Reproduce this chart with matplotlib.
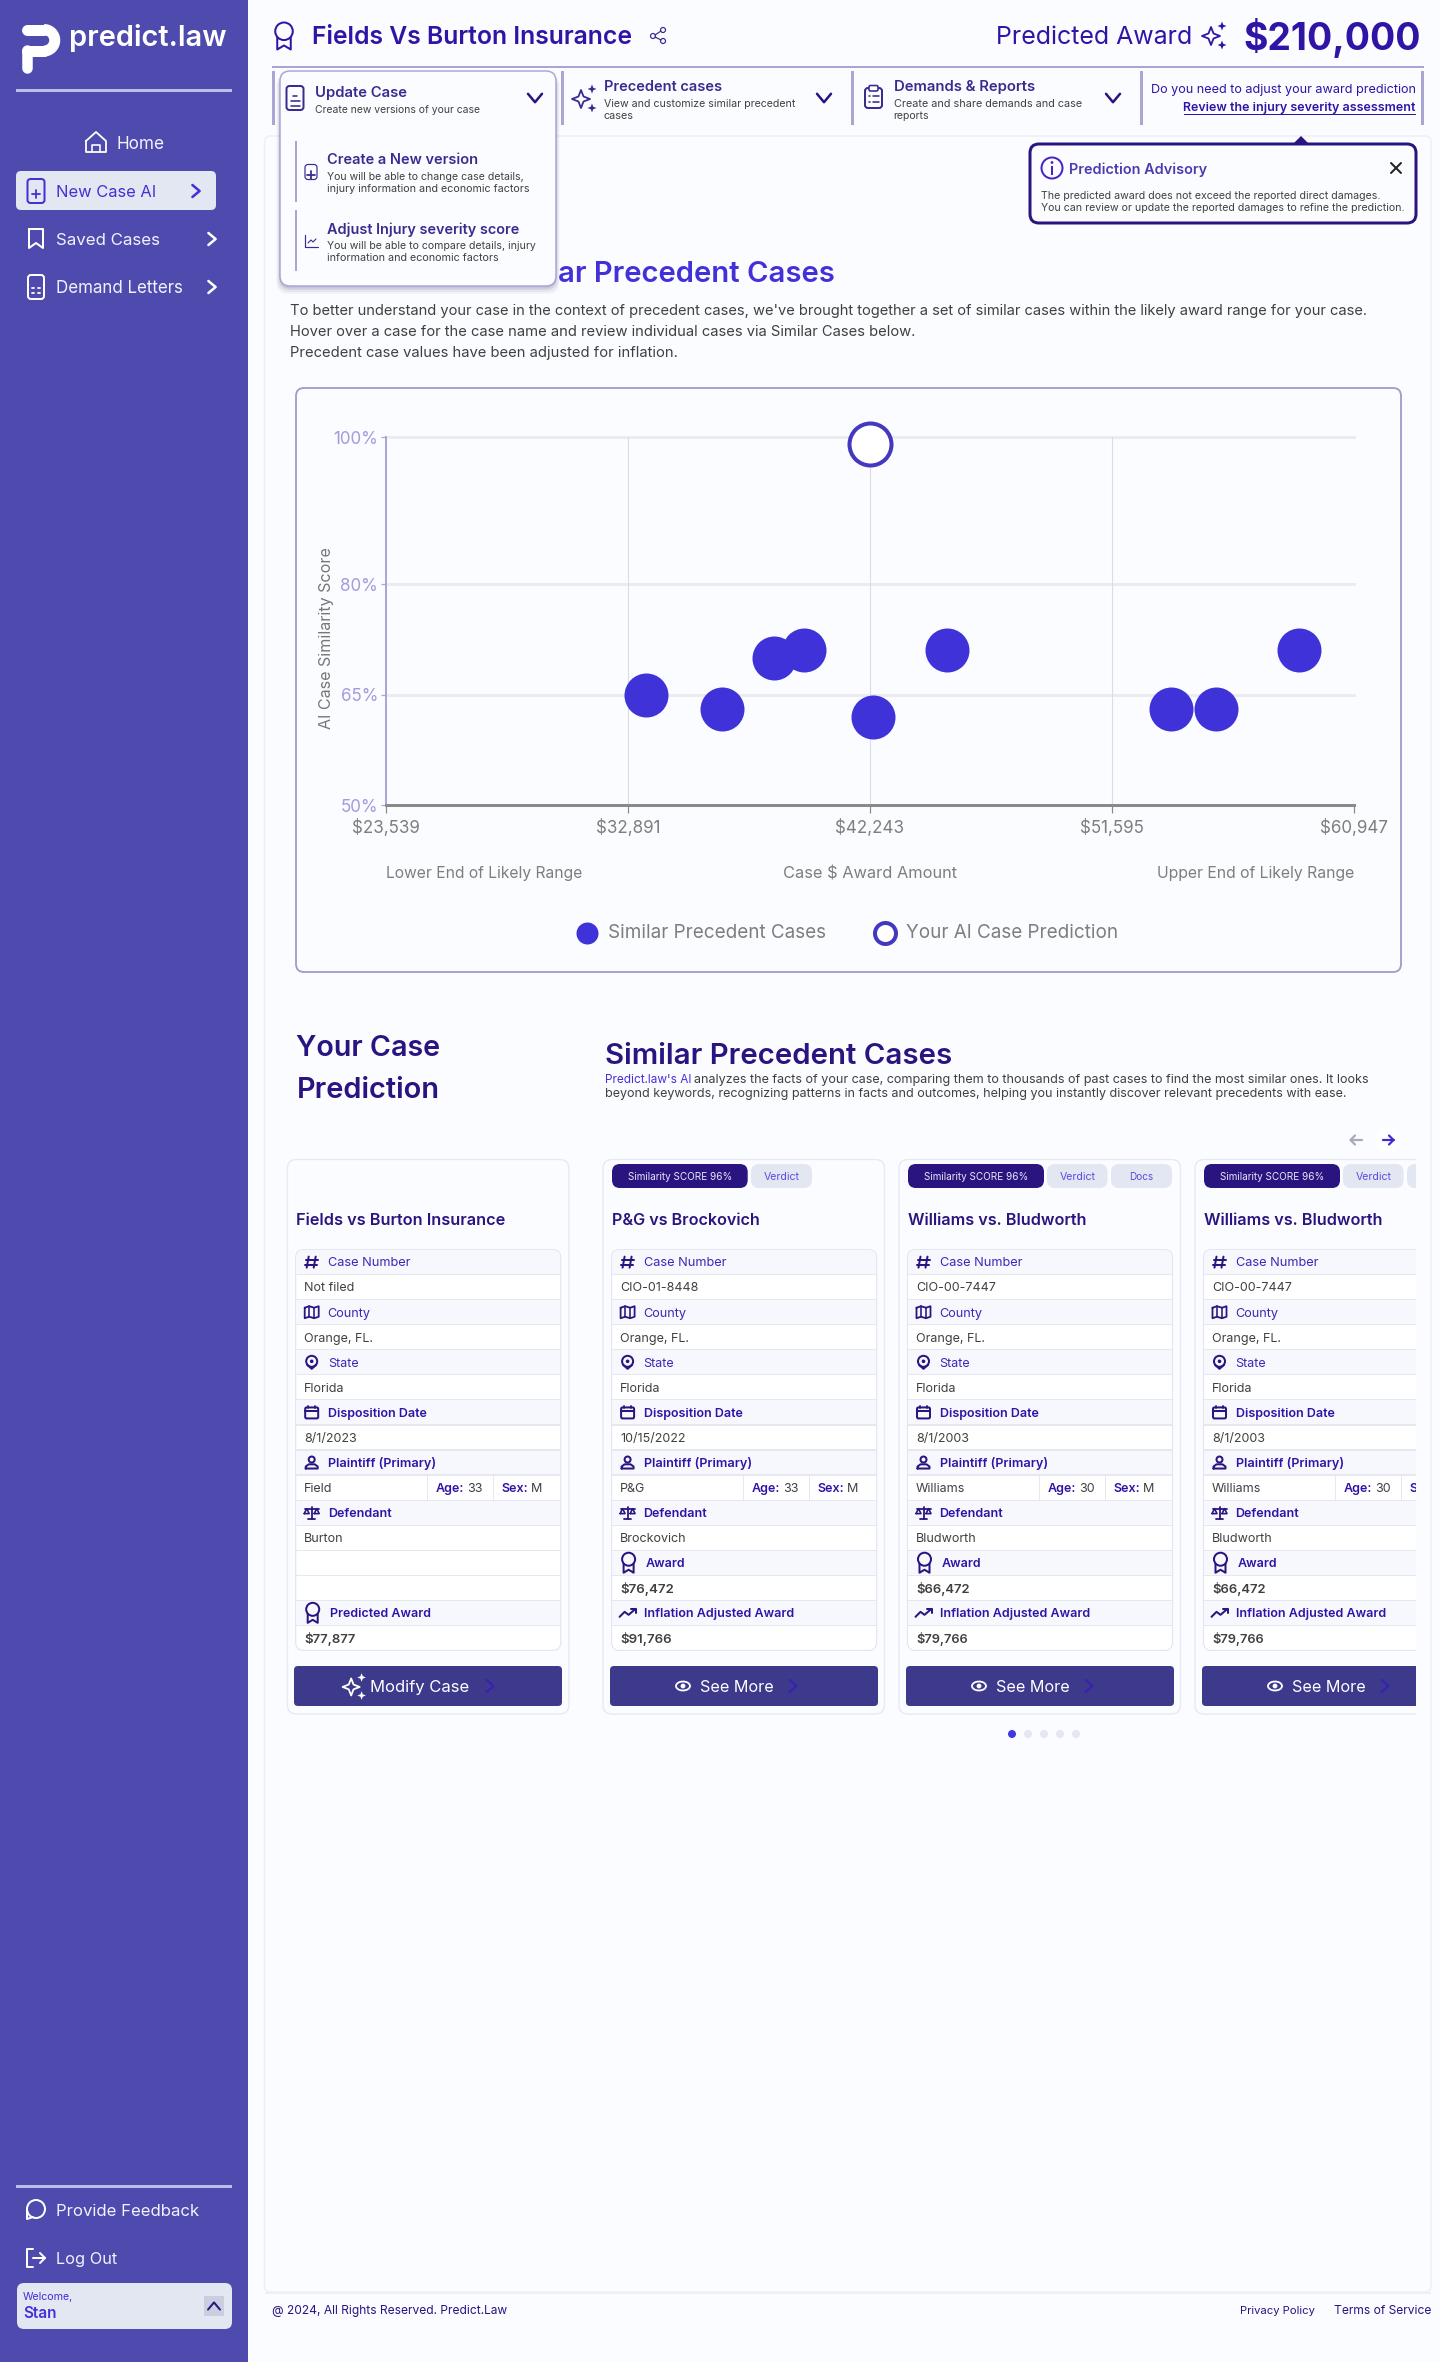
import matplotlib
matplotlib.use("Agg")
import matplotlib.pyplot as plt
from matplotlib.patches import FancyBboxPatch, Circle, Polygon, Rectangle, Ellipse, Arc

# ---------- data ----------
x_ticks = [23539, 32891, 42243, 51595, 60947]
x_tick_labels = ["$23,539", "$32,891", "$42,243", "$51,595", "$60,947"]
y_ticks = [50, 65, 80, 100]
y_tick_labels = ["50%", "65%", "80%", "100%"]
precedent_award = [33570, 36513, 38542, 39685, 42343, 45229, 53888, 55603, 58832]
precedent_score = [65, 63.1, 70, 71, 62, 71, 63.1, 63.1, 71]
prediction_award = [42243]
prediction_score = [99]

case_names = ["Fields vs Burton Insurance", "P&G vs Brockovich", "Williams vs. Bludworth", "Williams vs. Bludworth"]
case_numbers = ["Not filed", "CIO-01-8448", "CIO-00-7447", "CIO-00-7447"]
case_dates = ["8/1/2023", "10/15/2022", "8/1/2003", "8/1/2003"]
case_plaintiffs = ["Field", "P&G", "Williams", "Williams"]
case_ages = ["33", "33", "30", "30"]
case_defendants = ["Burton", "Brockovich", "Bludworth", "Bludworth"]
case_awards = ["", "$76,472", "$66,472", "$66,472"]
case_adjusted = ["$77,877", "$91,766", "$79,766", "$79,766"]
nav_items = ["Home", "New Case AI", "Saved Cases", "Demand Letters"]

# ---------- colours ----------
SIDE = "#4F4BAE"; BG = "#FBFCFF"; INK = "#2A1480"; INDIGO = "#2F14A6"; VIOLET = "#4430D8"
LINE = "#A9A6D4"; PALE = "#E2E7F2"; GREY = "#404040"; HEAD = "#3A2C8E"; BLUE = "#3E32D8"; BTN = "#3D3A8C"

plt.rcParams["font.family"] = ["Inter", "DejaVu Sans"]
fig = plt.figure(figsize=(14.4, 23.62), dpi=100, facecolor=BG)
ax = fig.add_axes([0, 0, 1, 1], zorder=1)
ax.set_xlim(0, 1440); ax.set_ylim(2362, 0); ax.axis("off"); ax.autoscale(False)
rend = fig.canvas.get_renderer()
PX = 0.72


def T(x, y, s, px=13, c=GREY, weight="normal", ha="left", w=None, z=8, rot=0, va="center"):
    yy = y if rot else y + px * 0.1
    t = ax.text(x, yy, s, fontsize=px * PX, color=c, fontweight=weight, ha=ha, va=va, zorder=z, rotation=rot)
    if w:
        bb = t.get_window_extent(rend)
        cur = bb.height if rot else bb.width
        t.set_fontsize(px * PX * w / cur)
    return t


def after(t):
    return t.get_window_extent(rend).x1


def RR(x0, y0, x1, y1, r=6, fc="none", ec="none", lw=1, z=2, alpha=None):
    p = FancyBboxPatch((x0, y0), x1 - x0, y1 - y0, boxstyle=f"round,pad=0,rounding_size={r}",
                       fc=fc, ec=ec, lw=lw * PX, zorder=z, alpha=alpha)
    ax.add_patch(p)
    return p


def R(x0, y0, x1, y1, fc, z=2):
    p = Rectangle((x0, y0), x1 - x0, y1 - y0, fc=fc, ec="none", zorder=z)
    ax.add_patch(p)
    return p


def L(xs, ys, c, lw=2, z=6):
    ax.plot(xs, ys, color=c, lw=lw * PX, solid_capstyle="round", solid_joinstyle="round", zorder=z)


def C(x, y, r, fc="none", ec="none", lw=2, z=6):
    ax.add_patch(Circle((x, y), r, fc=fc, ec=ec, lw=lw * PX, zorder=z))


def chev(x, y, c, d="r", s=6, lw=2.5, z=9):
    if d == "r":
        L([x - s * .6, x + s * .6, x - s * .6], [y - s, y, y + s], c, lw, z)
    elif d == "d":
        L([x - s, x, x + s], [y - s * .6, y + s * .6, y - s * .6], c, lw, z)
    else:
        L([x - s, x, x + s], [y + s * .6, y - s * .6, y + s * .6], c, lw, z)


def star(x, y, r, fc="none", ec="none", lw=1.6, z=9):
    k = r * 0.28
    pts = [(x, y - r), (x + k, y - k), (x + r, y), (x + k, y + k), (x, y + r), (x - k, y + k), (x - r, y), (x - k, y - k)]
    ax.add_patch(Polygon(pts, closed=True, fc=fc, ec=ec, lw=lw * PX, zorder=z, joinstyle="round"))


def sparkle(x, y, c, s=1.0, z=9):
    star(x - 3 * s, y + 1 * s, 9 * s, ec=c, lw=1.8, z=z)
    star(x + 8 * s, y - 9 * s, 4.5 * s, fc=c, z=z)
    star(x + 8 * s, y + 10 * s, 4.5 * s, fc=c, z=z)


def doc(x, y, c, kind="lines", w=17, h=24, lw=2, z=9):
    RR(x - w / 2, y - h / 2, x + w / 2, y + h / 2, 3, fc="none", ec=c, lw=lw, z=z)
    if kind == "lines":
        for dy, hw in [(-2, 2), (3, 4.5), (7.5, 4.5)]:
            L([x - hw, x + hw], [y + dy, y + dy], c, 1.6, z)
    elif kind == "plus":
        L([x - 4, x + 4], [y + 3, y + 3], c, 1.8, z); L([x, x], [y - 1, y + 7], c, 1.8, z)
    elif kind == "grid":
        for dx in (-3, 3):
            for dy in (1, 6):
                L([dx + x - 1, dx + x + 1], [y + dy, y + dy], c, 1.8, z)


def ribbon(x, y, c, s=1.0, z=9, lw=2):
    C(x, y - 3.5 * s, 6.5 * s, ec=c, lw=lw, z=z)
    L([x - 5 * s, x - 5 * s, x, x + 5 * s, x + 5 * s], [y + 1 * s, y + 10 * s, y + 7 * s, y + 10 * s, y + 1 * s], c, lw, z)


def icon_hash(x, y, c):
    L([x - 3, x - 5], [y - 5.5, y + 5.5], c, 2); L([x + 4, x + 2], [y - 5.5, y + 5.5], c, 2)
    L([x - 6, x + 6], [y - 2, y - 2], c, 2); L([x - 7, x + 5], [y + 2.5, y + 2.5], c, 2)


def icon_map(x, y, c):
    L([x - 7, x - 2.5, x + 2.5, x + 7, x + 7, x + 2.5, x - 2.5, x - 7, x - 7],
      [y - 4.5, y - 6, y - 4.5, y - 6, y + 4.5, y + 6, y + 4.5, y + 6, y - 4.5], c, 1.8)
    L([x - 2.5, x - 2.5], [y - 6, y + 4.5], c, 1.6); L([x + 2.5, x + 2.5], [y - 4.5, y + 6], c, 1.6)


def icon_pin(x, y, c):
    C(x, y - 1, 5.5, ec=c, lw=2); C(x, y - 1, 1.8, fc=c)
    L([x - 4.5, x, x + 4.5], [y + 2.5, y + 6.5, y + 2.5], c, 2)


def icon_cal(x, y, c):
    RR(x - 6.5, y - 5, x + 6.5, y + 6, 1.5, ec=c, lw=2, z=6)
    L([x - 6.5, x + 6.5], [y - 1.5, y - 1.5], c, 2)
    L([x - 3.5, x - 3.5], [y - 6.5, y - 4], c, 1.8); L([x + 3.5, x + 3.5], [y - 6.5, y - 4], c, 1.8)


def icon_person(x, y, c):
    C(x, y - 3, 3, ec=c, lw=2)
    L([x - 6, x - 6, x - 3, x + 3, x + 6, x + 6, x - 6], [y + 6, y + 4, y + 1.8, y + 1.8, y + 4, y + 6, y + 6], c, 2)


def icon_scales(x, y, c):
    L([x, x], [y - 6, y + 6], c, 1.8); L([x - 3.5, x + 3.5], [y + 6, y + 6], c, 1.8)
    L([x - 7, x + 7], [y - 4, y - 4], c, 1.8)
    for d in (-5, 5):
        L([x + d - 2.5, x + d, x + d + 2.5, x + d - 2.5], [y + 1, y - 4, y + 1, y + 1], c, 1.6)


def icon_trend(x, y, c):
    L([x - 8, x - 3, x + 1, x + 8], [y + 4, y - 1, y + 2, y - 4], c, 2)
    L([x + 3, x + 8, x + 8], [y - 4, y - 4, y], c, 2)


def icon_eye(x, y, c):
    ax.add_patch(Ellipse((x, y), 14, 9, fc="none", ec=c, lw=1.8 * PX, zorder=9)); C(x, y, 2.4, fc=c, z=9)


def arrow(x, y, c, d):
    L([x - 5.5, x + 5.5], [y, y], c, 2.2, 9)
    L([x + d * 1, x + d * 5.5, x + d * 1], [y - 4.5, y, y + 4.5], c, 2.2, 9)


# ---------- sidebar ----------
R(0, 0, 248, 2362, SIDE, z=1)
WHITE = "#FFFFFF"
L([26.5, 44], [29.5, 29.5], WHITE, 11, 3)
ax.add_patch(Arc((44, 40.25), 21.5, 21.5, theta1=-90, theta2=90, ec=WHITE, lw=11 * PX, zorder=3))
L([26.5, 44], [51, 51], WHITE, 11, 3)
L([26.5, 26.5], [50, 68], WHITE, 10.5, 3)
T(69, 35, "predict.law", 30, WHITE, "semibold", w=157)
R(16, 89, 232, 92, "#BDBCE6", 3)
R(16, 2184.5, 232, 2187.5, "#BDBCE6", 3)

# home
L([86, 96, 106, 106, 86, 86], [141, 132, 141, 152, 152, 141], WHITE, 1.8)
L([92, 92, 100, 100], [152, 145, 145, 152], WHITE, 1.6)
T(116, 143, nav_items[0], 16, "#F2F2FB", w=48)
RR(16, 171, 216, 210, 5, fc=PALE, z=3)
doc(36, 191, VIOLET, "plus", 17, 24)
T(56, 191, nav_items[1], 16, VIOLET, w=100)
chev(196, 191, VIOLET)
L([29, 29, 36, 43, 43, 29], [229, 248, 243, 248, 229, 229], WHITE, 2)
T(56, 239, nav_items[2], 16, "#F2F2FB", w=104)
chev(212, 239, WHITE)
doc(36, 287, WHITE, "grid", 16, 24)
T(56, 287, nav_items[3], 16, "#F2F2FB", w=127)
chev(212, 287, WHITE)
C(36, 2209, 9, ec=WHITE, lw=2, z=6)
L([27, 27, 33], [2209, 2219, 2217], WHITE, 2)
T(56, 2210, "Provide Feedback", 16, "#F2F2FB", w=143)
L([33, 27, 27, 33], [2249, 2249, 2267, 2267], WHITE, 2)
L([33, 45], [2258, 2258], WHITE, 2); L([40, 45, 40], [2253, 2258, 2263], WHITE, 2)
T(56, 2258, "Log Out", 16, "#F2F2FB", w=61)
RR(17, 2283, 232, 2329, 7, fc=PALE, z=3)
T(23, 2296, "Welcome,", 10, VIOLET, w=50)
T(23, 2312, "Stan", 13, VIOLET, "semibold", w=33.5)
R(204, 2296, 224, 2316, "#C9CEE0", 4)
chev(214, 2306, INK, "u", 6, 2)

# ---------- main panel ----------
RR(264.5, 136, 1431, 2292, 6, fc=BG, ec="#EEF0F8", lw=1.5, z=1)

# header
ribbon(284, 36, INDIGO, 1.35)
T(312, 35, "Fields Vs Burton Insurance", 26, INDIGO, "semibold", w=321)
C(653, 36, 2.5, ec=HEAD, lw=1.2); C(663, 30, 2.5, ec=HEAD, lw=1.2); C(663, 41, 2.5, ec=HEAD, lw=1.2)
L([655, 661], [35, 31], HEAD, 1.2); L([655, 661], [37, 40], HEAD, 1.2)
T(995.5, 35, "Predicted Award", 27, INDIGO, w=196.5)
sparkle(1214, 35, INDIGO, 1.0)
T(1243, 34, "$210,000", 40, INDIGO, "bold", w=178)

# tab bar
R(272, 66, 1424, 68, LINE, 3)
for bx in (271.5, 560.5, 850.5, 1139.5, 1420.5):
    R(bx, 71, bx + 3, 125, LINE, 3)

sparkle(584, 98, HEAD, 1.0)
T(604, 85.5, "Precedent cases", 14, HEAD, "semibold", w=118)
T(604, 103, "View and customize similar precedent", 10.5, GREY, w=190)
T(604, 115, "cases", 10.5, GREY, w=30)
chev(824, 98, INK, "d", 7, 2.5)
RR(865, 88, 882, 108, 3, ec=HEAD, lw=2, z=6)
RR(869, 85.5, 878, 91, 1.5, fc=BG, ec=HEAD, lw=1.6, z=7)
for dy in (96, 102):
    L([868.5, 870], [dy, dy], HEAD, 1.6); L([873, 878.5], [dy, dy], HEAD, 1.6)
T(893.5, 85.5, "Demands & Reports", 14, HEAD, "semibold", w=141.5)
T(893.5, 103, "Create and share demands and case", 10.5, GREY, w=187.5)
T(893.5, 115, "reports", 10.5, GREY, w=35.5)
chev(1113, 98, INK, "d", 7, 2.5)
T(1415.6, 89, "Do you need to adjust your award prediction", 12.5, INDIGO, ha="right", w=267)
T(1415.6, 107, "Review the injury severity assessment", 12.5, INDIGO, "semibold", ha="right", w=232)
R(1184, 113.5, 1415.6, 114.8, INDIGO, 8)

# dropdown
for k, a in ((7, .05), (5, .07), (3, .10), (1.5, .12)):
    RR(280 - k / 2, 71 + 3, 556 + k / 2, 286 + k + 1, 12, fc="#4B4A80", z=9, alpha=a)
RR(280, 71, 556, 286, 10, fc=BG, ec=LINE, lw=1.5, z=10)
def D(*a, **k):
    k.setdefault("z", 12); return T(*a, **k)
doc(295, 98, HEAD, "lines", 17, 24, z=12)
D(315, 92, "Update Case", 14, HEAD, "semibold", w=92)
D(315, 109, "Create new versions of your case", 10.5, GREY, w=165)
chev(535, 98, INK, "d", 7, 2.5, 12)
R(295, 141, 297, 202, LINE, 11); R(295, 210, 297, 271, LINE, 11)
doc(311, 172, HEAD, "plus", 12, 15, 1.2, z=12)
D(327, 159, "Create a New version", 14, HEAD, "semibold", w=151)
D(327, 176, "You will be able to change case details,", 10.5, GREY, w=196)
D(327, 188, "injury information and economic factors", 10.5, GREY, w=201)
L([305, 305, 318], [235, 247, 247], HEAD, 1.2, 12)
L([308, 311, 313, 316], [243, 240, 242, 239], HEAD, 1.1, 12)
D(327, 228, "Adjust Injury severity score", 14, HEAD, "semibold", w=192)
D(327, 245, "You will be able to compare details, injury", 10.5, GREY, w=207)
D(327, 257, "information and economic factors", 10.5, GREY, w=171)

# advisory
ax.add_patch(Polygon([(1292, 145), (1301, 136), (1310, 145)], closed=True, fc=INK, ec="none", zorder=4))
RR(1030, 144, 1416, 223, 9, fc=BG, ec=INK, lw=3, z=5)
C(1052, 168, 10.5, ec="#4A22C8", lw=2, z=6)
R(1051, 166, 1053.2, 175, "#4A22C8", 7); C(1052, 162.5, 1.4, fc="#4A22C8", z=7)
T(1069, 168, "Prediction Advisory", 14.5, "#4A3BB0", "semibold", w=138)
L([1391, 1401], [163, 173], "#222222", 2); L([1391, 1401], [173, 163], "#222222", 2)
T(1041, 195, "The predicted award does not exceed the reported direct damages.", 10.5, GREY, w=339)
T(1041, 207, "You can review or update the reported damages to refine the prediction.", 10.5, GREY, w=362)

# section title
T(558, 271, "ar Precedent Cases", 30, VIOLET, "semibold", w=276)
T(290, 310, "To better understand your case in the context of precedent cases, we've brought together a set of similar cases within the likely award range for your case.", 15, GREY, w=1079)
T(290, 331, "Hover over a case for the case name and review individual cases via Similar Cases below.", 15, GREY, w=626.5)
T(290, 352, "Precedent case values have been adjusted for inflation.", 15, GREY, w=388)

# chart frame
RR(296, 388, 1401, 972, 8, fc=BG, ec="#9D9AC8", lw=1.8, z=2)

# ---------- chart ----------
cax = fig.add_axes([386 / 1440, 1 - 805 / 2362, (1354 - 386) / 1440, (805 - 437) / 2362], zorder=2)
cax.patch.set_alpha(0)
cax.set_xlim(x_ticks[0], x_ticks[-1]); cax.set_ylim(50, 100)
for s in ("top", "right"):
    cax.spines[s].set_visible(False)
cax.spines["left"].set_color(LINE); cax.spines["left"].set_linewidth(2 * PX)
cax.spines["bottom"].set_color("#8A8A8A"); cax.spines["bottom"].set_linewidth(3 * PX)
cax.set_xticks(x_ticks, x_tick_labels, fontsize=17 * PX, color="#7E7E7E")
cax.set_yticks(y_ticks, y_tick_labels, fontsize=17 * PX, color="#A09CDD")
cax.tick_params(axis="x", length=8 * PX, width=1.2 * PX, color="#8A8A8A", pad=4)
cax.tick_params(axis="y", length=5 * PX, width=1.2 * PX, color=LINE, pad=2)
for v in y_ticks[1:]:
    cax.plot(x_ticks[::4], [v, v], color="#EBEBF0", lw=3 * PX, zorder=1, clip_on=False)
for v in x_ticks[1:-1]:
    cax.plot([v, v], [50, 100], color="#DCDCE2", lw=1.1 * PX, zorder=1)
sim = cax.scatter(precedent_award, precedent_score, s=(44 * PX) ** 2, color=BLUE, linewidths=0,
                  zorder=4, clip_on=False, label="Similar Precedent Cases")
you = cax.scatter(prediction_award, prediction_score, s=(42 * PX) ** 2, facecolor="white", edgecolor="#4338BE",
                  linewidths=4 * PX, zorder=4, clip_on=False, label="Your AI Case Prediction")
leg = cax.legend(handles=[sim, you], loc="center", bbox_to_anchor=(848 / 1440, 1 - 933 / 2362),
                 bbox_transform=fig.transFigure, ncol=2, frameon=False, fontsize=18.9 * PX,
                 markerscale=0.5, handlelength=1.0, handletextpad=0.6, columnspacing=2.65, labelcolor="#7E7E7E")
T(326, 638, "AI Case Similarity Score", 15, "#777777", rot=90, ha="center", w=181)
T(386, 872, "Lower End of Likely Range", 16, "#7E7E7E", w=196)
T(870, 872, "Case $ Award Amount", 16, "#7E7E7E", ha="center", w=174)
T(1354, 872, "Upper End of Likely Range", 16, "#7E7E7E", ha="right", w=197.5)

# ---------- lower section ----------
T(296.5, 1045, "Your Case", 30, INK, "semibold", w=144)
T(296.5, 1087, "Prediction", 30, INK, "semibold", w=143)
T(605, 1053, "Similar Precedent Cases", 30, INK, "semibold", w=346)
t0 = T(605, 1078.5, "Predict.law's AI", 12.5, VIOLET, w=87)
T(after(t0) + 3, 1078.5, "analyzes the facts of your case, comparing them to thousands of past cases to find the most similar ones. It looks", 12.5, GREY, w=679)
T(605, 1092.6, "beyond keywords, recognizing patterns in facts and outcomes, helping you instantly discover relevant precedents with ease.", 12.5, GREY, w=744)
arrow(1356, 1140, "#A9A9B8", -1)
C(1388, 1140, 12, fc="#FFFFFF", z=5)
arrow(1388, 1140, "#3F2BD0", 1)

ROW = 25.05
TOP = 1249.6
LAB = "#3A28B8"
BOLD = INDIGO


def card(i, cx, tx, bx0, bx1, chips, clip=False):
    before = set(ax.get_children())
    RR(cx, 1159.5, cx + 281.5, 1714, 9, fc=BG, ec="#E8EAF3", lw=1.4, z=2)
    for (a, b, fc, tc, s, tw) in chips:
        RR(a, 1164, b, 1188, 8, fc=fc, z=3)
        if s:
            T((a + b) / 2, 1176, s, 10.5, tc, ha="center", w=tw)
    T(tx, 1219, case_names[i], 16.5, INK, "semibold", w={0: 209, 1: 148}.get(i, 179))
    W = 265
    RR(tx, TOP, tx + W, TOP + 16 * ROW, 8, fc="#FFFFFF", ec="#E4E6F0", lw=1.2, z=3)
    for r in range(16):
        y0 = TOP + r * ROW
        if r % 2 == 0 and i >= 0:
            is_blank = i == 0 and r == 12
            if not is_blank:
                if r == 0:
                    RR(tx + 0.6, y0 + 0.6, tx + W - 0.6, y0 + ROW, 7, fc="#F6F8FD", z=3)
                    R(tx + 0.6, y0 + 8, tx + W - 0.6, y0 + ROW, "#F6F8FD", 3)
                else:
                    R(tx + 0.6, y0, tx + W - 0.6, y0 + ROW, "#F6F8FD", 3)
        if r:
            R(tx, y0 - 0.6, tx + W, y0 + 0.6, "#E6E8F0", 4)
    yc = lambda r: TOP + ROW * (r + 0.5)
    ic = tx + 16
    lx = tx + 32
    vx = tx + 8.5
    icon_hash(ic, yc(0), INK); T(lx, yc(0), "Case Number", 13, LAB, w=82.6)
    T(vx, yc(1), case_numbers[i], 12.5, GREY)
    icon_map(ic, yc(2), INK); T(lx, yc(2), "County", 13, LAB, w=43)
    T(vx, yc(3), "Orange, FL.", 12.5, GREY)
    icon_pin(ic, yc(4), INK); T(lx, yc(4), "State", 13, LAB, w=31)
    T(vx, yc(5), "Florida", 12.5, GREY)
    icon_cal(ic, yc(6), INK); T(lx, yc(6), "Disposition Date", 13, BOLD, "semibold", w=99)
    T(vx, yc(7), case_dates[i], 12.5, GREY)
    icon_person(ic, yc(8), INK); T(lx, yc(8), "Plaintiff (Primary)", 13, BOLD, "semibold", w=108)
    T(vx, yc(9), case_plaintiffs[i], 12.5, GREY)
    for off in (131.7, 197.7):
        if tx + off < 1416:
            R(tx + off - 0.6, TOP + 9 * ROW, tx + off + 0.6, TOP + 10 * ROW, "#E6E8F0", 4)
    a = T(tx + 140, yc(9), "Age:", 12.5, BOLD, "semibold")
    T(after(a) + 3, yc(9), case_ages[i], 12.5, GREY)
    if i < 3:
        a = T(tx + 206, yc(9), "Sex:", 12.5, BOLD, "semibold")
        T(after(a) + 3, yc(9), "M", 12.5, GREY)
    else:
        T(tx + 206, yc(9), "S", 12.5, BOLD, "semibold")
    icon_scales(ic, yc(10), INK); T(lx, yc(10), "Defendant", 13, BOLD, "semibold", w=64)
    T(vx, yc(11), case_defendants[i], 12.5, GREY)
    if i == 0:
        ribbon(ic + 1, yc(14), INK, 1.0)
        T(lx + 2, yc(14), "Predicted Award", 13, BOLD, "semibold", w=101)
    else:
        ribbon(ic + 1, yc(12), INK, 1.0)
        T(lx + 2, yc(12), "Award", 13, BOLD, "semibold", w=39.5)
        T(vx, yc(13), case_awards[i], 14.5, GREY, "semibold", w=54)
        icon_trend(ic, yc(14), INK)
        T(lx, yc(14), "Inflation Adjusted Award", 13, BOLD, "semibold", w=150)
    T(vx, yc(15), case_adjusted[i], 14.5, GREY, "semibold", w=52)
    RR(bx0, 1666, bx1, 1706, 4, fc=BTN, z=3)
    if i == 0:
        sparkle(bx0 + 60, 1686, "#FFFFFF", 0.95)
        T(bx0 + 76, 1686, "Modify Case", 17, "#FFFFFF", w=99)
        chev(bx0 + 196, 1686, "#3A1FB0", s=6, lw=2.2)
    else:
        icon_eye(bx0 + 73, 1686, "#FFFFFF")
        T(bx0 + 89.5, 1686, "See More", 17, "#FFFFFF", w=73.5)
        chev(bx0 + 183, 1686, "#3A1FB0", s=6, lw=2.2)
    if clip:
        box = Rectangle((1190, 1150), 226, 600, transform=ax.transData)
        for art in ax.get_children():
            if art not in before:
                art.set_clip_path(box)
                art.set_clip_on(True)


SCORE = "Similarity SCORE 96%"
card(0, 287.4, 295.7, 294, 562, [])
card(1, 603, 611.6, 610, 878,
     [(612, 747.7, INK, "#E8E6F8", SCORE, 104), (751, 812, PALE, "#5A4BE0", "Verdict", 36)])
card(2, 899, 907.5, 906, 1174,
     [(908, 1044, INK, "#E8E6F8", SCORE, 104), (1047, 1107.5, PALE, "#5A4BE0", "Verdict", 36),
      (1111, 1172, PALE, "#5A4BE0", "Docs", 24)])
card(3, 1195, 1203.5, 1202, 1470,
     [(1204, 1340, INK, "#E8E6F8", SCORE, 104), (1343, 1403.6, PALE, "#5A4BE0", "Verdict", 36),
      (1407, 1468, PALE, "#5A4BE0", "", 0)], clip=True)

for k, dx in enumerate((1012, 1028, 1044, 1060, 1076)):
    C(dx, 1734, 4, fc="#4038E0" if k == 0 else "#E4E7F2", z=4)

# footer
R(265, 2292, 1431, 2293.5, "#EEF0F8", 3)
T(272, 2310, "@ 2024, All Rights Reserved. Predict.Law", 12, INK, w=235)
T(1240.5, 2310, "Privacy Policy", 12, INK, w=74.5)
T(1333.5, 2310, "Terms of Service", 12, INK, w=97.5)

fig.savefig("out.png", dpi=100, facecolor=BG)
